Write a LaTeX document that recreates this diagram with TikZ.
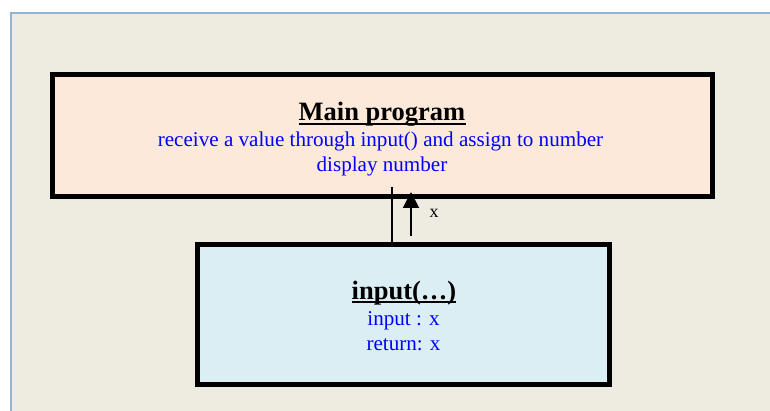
\documentclass[tikz,border=0pt]{standalone}
\usepackage{fontspec}
\setmainfont{Liberation Serif}
\usetikzlibrary{arrows.meta}
\definecolor{bgbeige}{HTML}{EEECE1}
\definecolor{frameblue}{HTML}{95B3D7}
\definecolor{peach}{HTML}{FDE9D9}
\definecolor{lightblue}{HTML}{DBEEF3}
\definecolor{txtblue}{HTML}{0000FF}
\tikzset{
  box/.style={draw=black, line width=5pt, inner sep=0pt, outer sep=0pt},
  ttl/.style={anchor=base, inner sep=0pt, font=\fontsize{26.5}{30}\selectfont\bfseries},
  bl/.style={anchor=base, inner sep=0pt, text=txtblue, font=\fontsize{21.1}{25}\selectfont},
  lbl/.style={anchor=base, inner sep=0pt, font=\fontsize{18}{20}\selectfont},
  uln/.style={line width=1.8pt},
  conn/.style={line width=1.5pt},
  arr/.style={line width=2pt, -{Triangle[length=16pt,width=16pt]}}
}
\begin{document}
\begin{tikzpicture}[x=1pt,y=-1pt]
\useasboundingbox (0,0) rectangle (770,411);
\fill[white] (0,0) rectangle (770,411);
\draw[frameblue, line width=2pt, fill=bgbeige] (10.5,13) rectangle (800,440);
% main box
\node[box, fill=peach, minimum width=660pt, minimum height=122pt] (main) at (382.5,135.5) {};
\node[ttl] (mt) at (382,121) {Main program};
\draw[uln] ([yshift=-3.3pt]mt.base west) -- ([yshift=-3.3pt]mt.base east);
\node[bl] (m1) at (380.5,147) {receive a value through input() and assign to number};
\node[bl] (m2) at (382,172) {display number};
% lower box
\node[box, fill=lightblue, minimum width=412pt, minimum height=140pt] (sub) at (403.5,314.5) {};
\node[ttl] (st) at (404,299) {input(…)};
\draw[uln] ([yshift=-3.3pt]st.base west) -- ([yshift=-3.3pt]st.base east);
\node[bl] (s1) at (403.5,325) {input : x};
\node[bl] (s2) at (403.5,350) {return: x};
% connectors
\coordinate (ltop) at (392,187);
\draw[conn] (ltop) -- (ltop |- sub.north);
\coordinate (abot) at (411,236);
\coordinate (atip) at (411,192);
\draw[arr] (abot) -- (atip);
\node[lbl] (xl) at (434,218) {x};
\end{tikzpicture}
\end{document}
